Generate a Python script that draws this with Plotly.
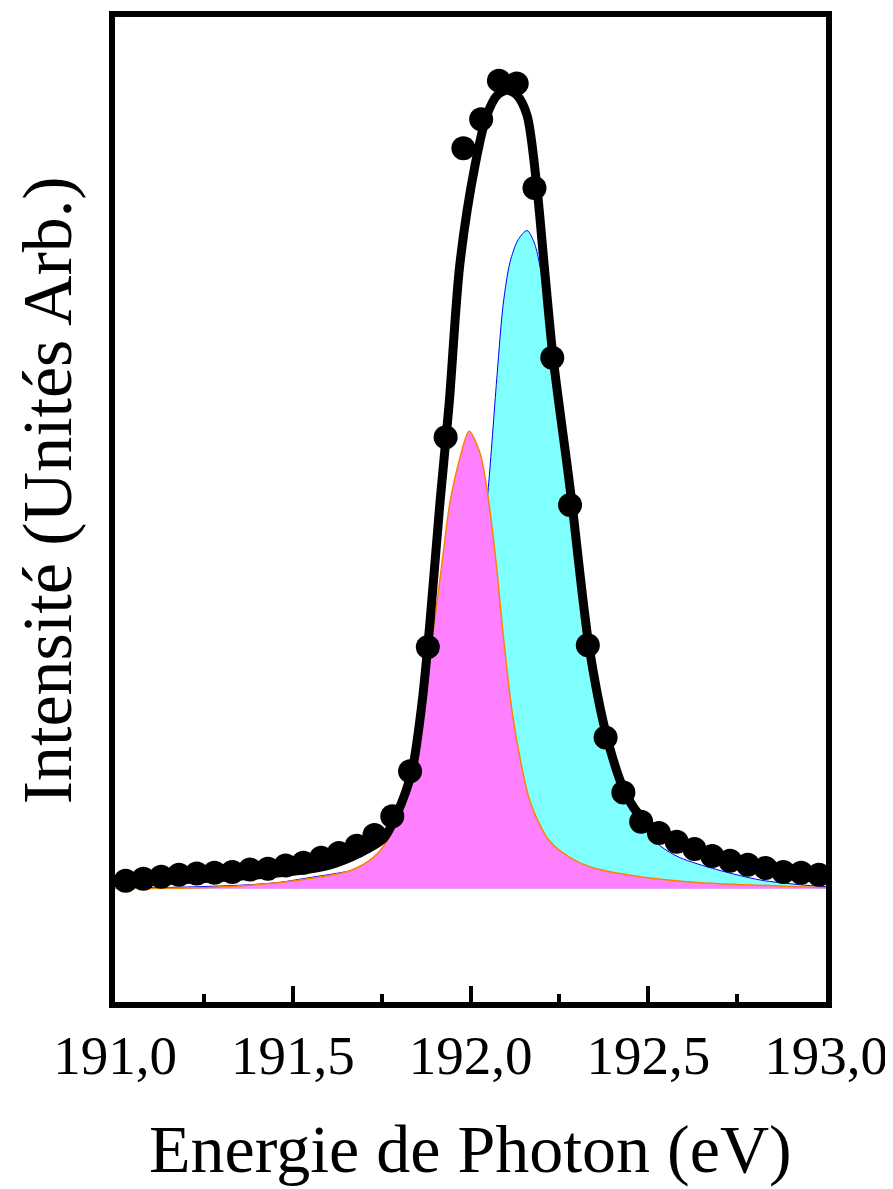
import plotly.graph_objects as go

# ---------------- data ----------------
# measured points (black dots)
data_x = [191.03, 191.08, 191.13, 191.18, 191.23, 191.28, 191.33, 191.38, 191.43, 191.48,
          191.53, 191.58, 191.63, 191.68, 191.73, 191.78, 191.83, 191.88, 191.93, 191.98,
          192.03, 192.08, 192.13, 192.18, 192.23, 192.28, 192.33, 192.38, 192.43, 192.48,
          192.53, 192.58, 192.63, 192.68, 192.73, 192.78, 192.83, 192.88, 192.93, 192.98]
data_y = [1.0, 1.25, 1.5, 1.75, 1.9, 2.0, 2.1, 2.4, 2.5, 2.9,
          3.25, 3.9, 4.5, 5.4, 6.75, 9.1, 14.75, 30.4, 56.75, 93.1,
          96.75, 101.6, 101.25, 88.1, 66.75, 48.25, 30.6, 19.0, 12.1, 8.4,
          7.0, 5.9, 5.0, 4.1, 3.5, 3.0, 2.6, 2.1, 2.0, 1.75]

# fitted envelope (black line)
fit_x = [191.0, 191.239, 191.464, 191.605, 191.689, 191.754, 191.793, 191.835, 191.864,
         191.886, 191.914, 191.940, 191.970, 192.013, 192.046, 192.075, 192.103, 192.131,
         192.159, 192.187, 192.207, 192.232, 192.271, 192.286, 192.333, 192.384, 192.435,
         192.485, 192.536, 192.589, 192.693, 192.792, 192.890, 193.0]
fit_y = [0.75, 1.25, 2.0, 3.0, 4.5, 6.25, 9.4, 14.75, 23.5,
         33.5, 48.5, 61.0, 78.5, 91.0, 97.25, 99.75, 100.4, 99.75,
         97.25, 88.1, 78.5, 66.9, 53.5, 48.25, 30.6, 19.0, 12.1,
         8.75, 7.0, 5.75, 4.1, 3.1, 2.4, 1.75]

# first component (magenta)
comp1_x = [191.0, 191.239, 191.428, 191.568, 191.661, 191.726, 191.765, 191.802, 191.835,
           191.866, 191.894, 191.920, 191.942, 191.970, 191.996, 192.027, 192.049, 192.072,
           192.092, 192.117, 192.145, 192.167, 192.190, 192.218, 192.252, 192.308, 192.364,
           192.477, 192.646, 192.927, 193.0]
comp1_y = [0.03, 0.12, 0.62, 1.4, 2.25, 3.9, 6.0, 10.0, 15.1,
           22.9, 31.9, 41.0, 48.5, 54.1, 57.5, 54.75, 49.4, 41.0,
           31.9, 22.25, 15.1, 11.0, 8.5, 6.25, 4.75, 3.25, 2.4,
           1.5, 0.75, 0.25, 0.12]

# second component (cyan)
comp2_x = [191.0, 191.239, 191.380, 191.464, 191.549, 191.633, 191.689, 191.745, 191.802,
           191.858, 191.914, 191.970, 192.013, 192.035, 192.052, 192.075, 192.092, 192.111,
           192.134, 192.159, 192.181, 192.210, 192.232, 192.271, 192.286, 192.333, 192.384,
           192.435, 192.485, 192.533, 192.589, 192.693, 192.814, 192.927, 193.0]
comp2_y = [0.04, 0.25, 0.5, 0.8, 1.4, 2.0, 2.5, 3.5, 5.0,
           7.0, 12.0, 23.5, 36.0, 43.5, 51.4, 64.75, 73.5, 78.75,
           81.6, 82.75, 81.0, 74.4, 66.5, 52.9, 47.75, 30.0, 18.25,
           11.0, 7.75, 5.4, 3.9, 2.4, 1.1, 0.5, 0.25]

tick_vals = [191.0, 191.5, 192.0, 192.5, 193.0]
tick_text = ["191,0", "191,5", "192,0", "192,5", "193,0"]

x_title = "Energie de Photon (eV)"
y_title = "Intensité (Unités Arb.)"

# ---------------- figure ----------------
FONT = "Liberation Serif, Times New Roman, serif"

fig = go.Figure()

fig.add_trace(go.Scatter(
    x=comp2_x, y=comp2_y, mode="lines", fill="tozeroy",
    line=dict(color="#0000FF", width=1, shape="spline", smoothing=0.8),
    fillcolor="#80FFFF", hoverinfo="skip", showlegend=False))

fig.add_trace(go.Scatter(
    x=comp1_x, y=comp1_y, mode="lines", fill="tozeroy",
    line=dict(color="#FF8000", width=1.5, shape="spline", smoothing=0.8),
    fillcolor="#FF80FF", hoverinfo="skip", showlegend=False))

fig.add_trace(go.Scatter(
    x=fit_x, y=fit_y, mode="lines",
    line=dict(color="black", width=9, shape="spline", smoothing=0.8),
    showlegend=False))

fig.add_trace(go.Scatter(
    x=data_x, y=data_y, mode="markers",
    marker=dict(color="black", size=24, line=dict(width=0)),
    showlegend=False))

fig.update_layout(
    width=885, height=1181,
    margin=dict(l=107, r=67, t=3, b=187),
    paper_bgcolor="white", plot_bgcolor="white",
    font=dict(family=FONT, color="black"),
    xaxis=dict(
        range=[191.0, 193.0],
        tickvals=tick_vals, ticktext=tick_text,
        ticks="inside", ticklen=16, tickwidth=4, tickcolor="black",
        minor=dict(dtick=0.25, tick0=191.0, ticks="inside", ticklen=8,
                   tickwidth=4, tickcolor="black", showgrid=False),
        tickfont=dict(family=FONT, size=55, color="black"),
        showline=True, linewidth=6, linecolor="black", mirror=True,
        showgrid=False, zeroline=False,
    ),
    yaxis=dict(
        range=[-14.25, 109.6],
        showticklabels=False, ticks="",
        showline=True, linewidth=6, linecolor="black", mirror=True,
        showgrid=False, zeroline=False,
    ),
    annotations=[
        dict(text=x_title, xref="paper", yref="paper", x=0.5, y=-0.149,
             xanchor="center", yanchor="middle", showarrow=False,
             font=dict(family=FONT, size=68, color="black")),
        dict(text=y_title, xref="paper", yref="paper", x=-0.095, y=0.52,
             xanchor="center", yanchor="middle", textangle=-90, showarrow=False,
             font=dict(family=FONT, size=70, color="black")),
    ],
)

fig.write_html("out.html")
